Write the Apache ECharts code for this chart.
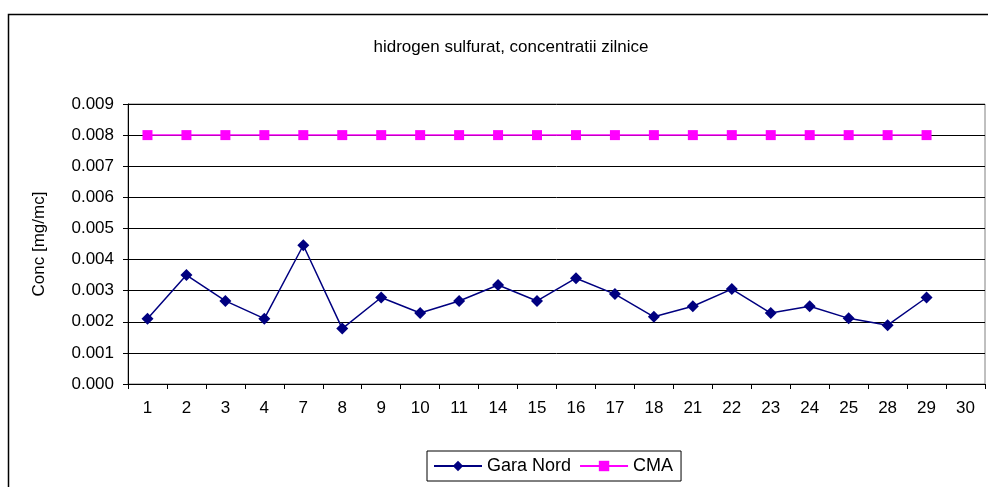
<!DOCTYPE html>
<html lang="ro">
<head>
    <meta charset="UTF-8">
    <title>hidrogen sulfurat, concentratii zilnice</title>
    <script src="https://cdn.jsdelivr.net/npm/echarts/dist/echarts.min.js"></script>
    <style>
        html, body { margin: 0; padding: 0; background: #fff; }
        #main { width: 988px; height: 487px; }
    </style>
</head>
<body>
<div id="main"></div>
<script>
    // zilele masurate (axa x)
    const zile = ['1', '2', '3', '4', '7', '8', '9', '10', '11', '14', '15', '16', '17', '18', '21', '22', '23', '24', '25', '28', '29', '30'];

    // concentratii Gara Nord [mg/mc]
    const garaNord = [0.0021, 0.0035, 0.00267, 0.0021, 0.00446, 0.00178, 0.00278, 0.00228, 0.00267, 0.00318, 0.00267,
        0.0034, 0.00289, 0.00216, 0.0025, 0.00305, 0.00228, 0.0025, 0.00211, 0.00189, 0.00278, null];

    // concentratia maxima admisa
    const cma = [0.008, 0.008, 0.008, 0.008, 0.008, 0.008, 0.008, 0.008, 0.008, 0.008, 0.008,
        0.008, 0.008, 0.008, 0.008, 0.008, 0.008, 0.008, 0.008, 0.008, 0.008, null];

    const font = 'Arial, "Liberation Sans", sans-serif';

    const chart = echarts.init(document.getElementById('main'));

    const option = {
        animation: false,
        textStyle: { fontFamily: font },
        title: {
            text: 'hidrogen sulfurat, concentratii zilnice',
            left: 506,
            top: 34,
            textAlign: 'center',
            textStyle: { fontSize: 17, fontWeight: 'normal', color: '#000', fontFamily: font }
        },
        legend: {
            left: 427,
            top: 451,
            width: 256,
            padding: [6, 8, 6, 6],
            itemGap: 8,
            itemWidth: 48,
            itemHeight: 13,
            borderColor: '#000',
            borderWidth: 1,
            textStyle: { fontSize: 18, color: '#000', fontFamily: font },
            data: ['Gara Nord', 'CMA']
        },
        grid: {
            left: 128,
            right: 3,
            top: 104,
            bottom: 103,
            show: true,
            borderColor: '#808080',
            borderWidth: 1
        },
        xAxis: {
            type: 'category',
            data: zile,
            boundaryGap: true,
            axisLine: { lineStyle: { color: '#000' } },
            axisTick: { show: true, length: 5, interval: 0, lineStyle: { color: '#000' } },
            axisLabel: { interval: 0, color: '#000', fontSize: 17, margin: 16, fontFamily: font }
        },
        yAxis: {
            type: 'value',
            min: 0,
            max: 0.009,
            interval: 0.001,
            name: 'Conc [mg/mc]',
            nameLocation: 'middle',
            nameGap: 80,
            nameTextStyle: { fontSize: 17, color: '#000', fontFamily: font },
            axisLine: { show: true, lineStyle: { color: '#000' } },
            axisTick: { show: true, length: 5, inside: false, lineStyle: { color: '#000' } },
            axisLabel: {
                color: '#000', fontSize: 17, margin: 14, fontFamily: font,
                formatter: v => v.toFixed(3)
            },
            splitLine: { show: true, lineStyle: { color: '#000', width: 1 } }
        },
        series: [
            {
                name: 'Gara Nord',
                type: 'line',
                data: garaNord,
                symbol: 'diamond',
                symbolSize: 12,
                color: '#000080',
                lineStyle: { width: 1.5, color: '#000080' },
                itemStyle: { color: '#000080' }
            },
            {
                name: 'CMA',
                type: 'line',
                data: cma,
                symbol: 'rect',
                symbolSize: 10,
                color: '#ff00ff',
                lineStyle: { width: 1.5, color: '#ff00ff' },
                itemStyle: { color: '#ff00ff' }
            }
        ],
        graphic: [
            {
                type: 'rect',
                shape: { x: 8.5, y: 14.5, width: 1000, height: 500 },
                style: { fill: 'none', stroke: '#000', lineWidth: 1.5 },
                silent: true,
                z: -1
            }
        ]
    };

    chart.setOption(option);
</script>
</body>
</html>
